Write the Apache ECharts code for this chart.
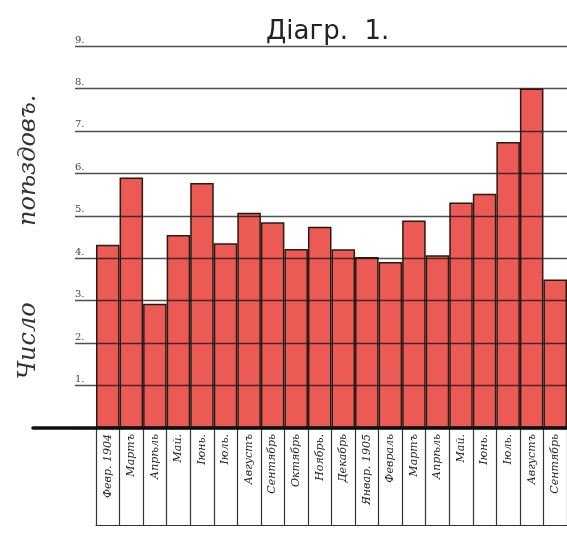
<!DOCTYPE html>
<html>
<head>
<meta charset="utf-8">
<script src="https://cdn.jsdelivr.net/npm/echarts@6/dist/echarts.min.js"></script>
<style>
html,body{margin:0;padding:0;background:#fff;}
#c{width:567px;height:535px;}
</style>
</head>
<body>
<div id="c"></div>
<script>
var categories = ["Февр. 1904","Мартъ","Апрѣль","Май.","Іюнь.","Іюль.","Августъ","Сентябрь","Октябрь","Ноябрь.","Декабрь","Январ. 1905","Февраль","Мартъ","Апрѣль","Май.","Іюнь.","Іюль.","Августъ","Сентябрь"];
var trains = [4.32,5.9,2.93,4.55,5.77,4.35,5.07,4.85,4.22,4.74,4.21,4.03,3.91,4.89,4.07,5.31,5.52,6.74,8.0,3.5];
var yTicks = [1,2,3,4,5,6,7,8,9];
var titleText = "Діагр.  1.";
var yName = "Число          поѣздовъ.";

var chart = echarts.init(document.getElementById('c'));
var TOP = 46, BOTTOM = 107;
chart.setOption({
  animation: false,
  backgroundColor: '#ffffff',
  title: {
    text: titleText, left: 261, top: 14,
    textStyle: {fontFamily: 'DejaVu Sans', fontWeight: 'normal', fontSize: 26, color: '#222'}
  },
  grid: [
    {left: 75, right: 0, top: TOP, bottom: BOTTOM},
    {left: 96, right: 0, top: TOP, bottom: BOTTOM},
    {left: 33, right: 0, top: TOP, bottom: BOTTOM}
  ],
  xAxis: [
    {gridIndex: 0, type: 'value', show: false},
    {gridIndex: 1, type: 'category', data: categories, boundaryGap: true,
     axisLine: {show: false},
     axisTick: {show: true, interval: 0, length: 97, lineStyle: {color: '#333', width: 1.2}},
     axisLabel: {interval: 0, rotate: 90, margin: 6, fontFamily: 'DejaVu Serif', fontStyle: 'italic', fontSize: 11, color: '#222'},
     z: 4},
    {gridIndex: 2, type: 'value', min: 0, max: 1,
     axisLine: {show: true, lineStyle: {color: '#111', width: 3.5}},
     axisTick: {show: false}, axisLabel: {show: false}, splitLine: {show: false}, z: 5},
    {gridIndex: 1, type: 'category', data: categories, position: 'bottom', offset: 97,
     axisLine: {show: true, lineStyle: {color: '#333', width: 1.2}},
     axisTick: {show: false}, axisLabel: {show: false}}
  ],
  yAxis: [
    {gridIndex: 0, type: 'value', min: 0, max: 9, interval: 1,
     axisLine: {show: false}, axisTick: {show: false},
     name: yName, nameLocation: 'middle', nameRotate: 90, nameGap: 34,
     nameTextStyle: {fontFamily: 'DejaVu Serif', fontStyle: 'italic', fontSize: 24, color: '#333'},
     axisLabel: {inside: true, margin: 0, verticalAlign: 'bottom', padding: [0,0,1,0],
       fontFamily: 'DejaVu Serif', fontSize: 10, color: '#444',
       formatter: function(v){ return yTicks.indexOf(v) >= 0 ? v + '.' : ''; }},
     splitLine: {show: true, lineStyle: {color: 'rgba(20,20,20,0.75)', width: 1.4}},
     z: 3},
    {gridIndex: 1, type: 'value', min: 0, max: 9, interval: 1, show: false},
    {gridIndex: 2, type: 'value', min: 0, max: 9, show: false}
  ],
  series: [{
    type: 'bar', xAxisIndex: 1, yAxisIndex: 1, data: trains,
    barCategoryGap: '0%',
    itemStyle: {color: '#ec5a55', borderColor: '#2a1a12', borderWidth: 1.5},
    z: 2
  }]
});
</script>
</body>
</html>
